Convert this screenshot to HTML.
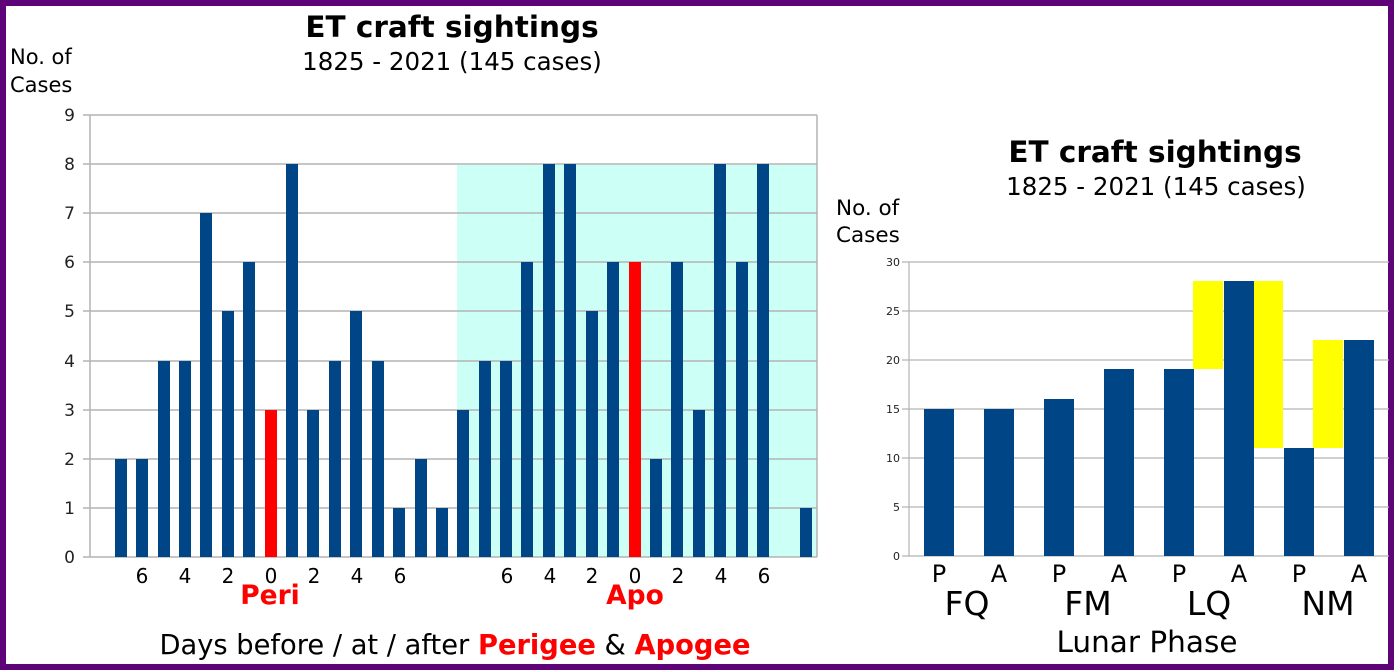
<!DOCTYPE html>
<html><head><meta charset="utf-8"><style>
body{margin:0;background:#fff}
svg{display:block;font-family:"DejaVu Sans","Liberation Sans",sans-serif}
</style></head><body>
<svg width="1394" height="670" xmlns="http://www.w3.org/2000/svg">
<rect x="3" y="3" width="1388" height="664" fill="#fff" stroke="#5e0478" stroke-width="6"/>
<!-- LEFT CHART -->
<text x="452" y="37" font-size="29.5" font-weight="bold" text-anchor="middle">ET craft sightings</text>
<text x="452" y="70" font-size="24.5" text-anchor="middle">1825 - 2021 (145 cases)</text>
<text x="10" y="64" font-size="21">No. of</text>
<text x="10" y="92" font-size="21">Cases</text>
<rect x="457" y="165" width="360" height="392" fill="#ccfff6"/>
<g stroke="#b4b4b4" stroke-width="1.5">
<line x1="83" y1="115" x2="817" y2="115"/>
<line x1="83" y1="164" x2="817" y2="164"/>
<line x1="83" y1="213" x2="817" y2="213"/>
<line x1="83" y1="262" x2="817" y2="262"/>
<line x1="83" y1="311" x2="817" y2="311"/>
<line x1="83" y1="361" x2="817" y2="361"/>
<line x1="83" y1="410" x2="817" y2="410"/>
<line x1="83" y1="459" x2="817" y2="459"/>
<line x1="83" y1="508" x2="817" y2="508"/>
<line x1="83" y1="557" x2="817" y2="557"/>
<line x1="90" y1="115" x2="90" y2="557"/>
<line x1="817" y1="115" x2="817" y2="557"/>
</g>
<g font-size="17" text-anchor="end" fill="#222">
<text x="75" y="121">9</text><text x="75" y="170">8</text><text x="75" y="219">7</text><text x="75" y="268">6</text><text x="75" y="317">5</text><text x="75" y="367">4</text><text x="75" y="416">3</text><text x="75" y="465">2</text><text x="75" y="514">1</text><text x="75" y="563">0</text>
</g>
<g>
<rect x="115" y="459" width="12" height="98" fill="#004586"/>
<rect x="136" y="459" width="12" height="98" fill="#004586"/>
<rect x="158" y="361" width="12" height="196" fill="#004586"/>
<rect x="179" y="361" width="12" height="196" fill="#004586"/>
<rect x="200" y="213" width="12" height="344" fill="#004586"/>
<rect x="222" y="311" width="12" height="246" fill="#004586"/>
<rect x="243" y="262" width="12" height="295" fill="#004586"/>
<rect x="265" y="410" width="12" height="147" fill="#ff0000"/>
<rect x="286" y="164" width="12" height="393" fill="#004586"/>
<rect x="307" y="410" width="12" height="147" fill="#004586"/>
<rect x="329" y="361" width="12" height="196" fill="#004586"/>
<rect x="350" y="311" width="12" height="246" fill="#004586"/>
<rect x="372" y="361" width="12" height="196" fill="#004586"/>
<rect x="393" y="508" width="12" height="49" fill="#004586"/>
<rect x="415" y="459" width="12" height="98" fill="#004586"/>
<rect x="436" y="508" width="12" height="49" fill="#004586"/>
<rect x="457" y="410" width="12" height="147" fill="#004586"/>
<rect x="479" y="361" width="12" height="196" fill="#004586"/>
<rect x="500" y="361" width="12" height="196" fill="#004586"/>
<rect x="521" y="262" width="12" height="295" fill="#004586"/>
<rect x="543" y="164" width="12" height="393" fill="#004586"/>
<rect x="564" y="164" width="12" height="393" fill="#004586"/>
<rect x="586" y="311" width="12" height="246" fill="#004586"/>
<rect x="607" y="262" width="12" height="295" fill="#004586"/>
<rect x="629" y="262" width="12" height="295" fill="#ff0000"/>
<rect x="650" y="459" width="12" height="98" fill="#004586"/>
<rect x="671" y="262" width="12" height="295" fill="#004586"/>
<rect x="693" y="410" width="12" height="147" fill="#004586"/>
<rect x="714" y="164" width="12" height="393" fill="#004586"/>
<rect x="736" y="262" width="12" height="295" fill="#004586"/>
<rect x="757" y="164" width="12" height="393" fill="#004586"/>
<rect x="800" y="508" width="12" height="49" fill="#004586"/>
</g>
<g font-size="20" text-anchor="middle">
<text x="142" y="583">6</text><text x="185" y="583">4</text><text x="228" y="583">2</text><text x="271" y="583">0</text><text x="314" y="583">2</text><text x="357" y="583">4</text><text x="400" y="583">6</text>
<text x="507" y="583">6</text><text x="550" y="583">4</text><text x="592" y="583">2</text><text x="635" y="583">0</text><text x="678" y="583">2</text><text x="721" y="583">4</text><text x="764" y="583">6</text>
</g>
<g font-size="26.5" font-weight="bold" fill="#ff0000" text-anchor="middle">
<text x="270" y="604">Peri</text><text x="635" y="604">Apo</text>
</g>
<text x="455" y="654" font-size="27.3" text-anchor="middle">Days before / at / after <tspan fill="#ff0000" font-weight="bold">Perigee</tspan> &amp; <tspan fill="#ff0000" font-weight="bold">Apogee</tspan></text>

<!-- RIGHT CHART -->
<text x="1155" y="162" font-size="29.5" font-weight="bold" text-anchor="middle">ET craft sightings</text>
<text x="1156" y="195" font-size="24.5" text-anchor="middle">1825 - 2021 (145 cases)</text>
<text x="836" y="215" font-size="21.5">No. of</text>
<text x="836" y="242" font-size="21.5">Cases</text>
<g stroke="#b4b4b4" stroke-width="1.2">
<line x1="902" y1="262" x2="1389" y2="262"/>
<line x1="902" y1="311" x2="1389" y2="311"/>
<line x1="902" y1="360" x2="1389" y2="360"/>
<line x1="902" y1="409" x2="1389" y2="409"/>
<line x1="902" y1="458" x2="1389" y2="458"/>
<line x1="902" y1="507" x2="1389" y2="507"/>
<line x1="902" y1="556" x2="1389" y2="556"/>
<line x1="909" y1="262" x2="909" y2="556"/>
</g>
<g font-size="11" text-anchor="end" fill="#222">
<text x="900" y="266">30</text><text x="900" y="315">25</text><text x="900" y="364">20</text><text x="900" y="413">15</text><text x="900" y="462">10</text><text x="900" y="511">5</text><text x="900" y="560">0</text>
</g>
<g fill="#ffff00">
<rect x="1193" y="281" width="30" height="88"/>
<rect x="1253" y="281" width="30" height="167"/>
<rect x="1313" y="340" width="30" height="108"/>
</g>
<g fill="#004586">
<rect x="924" y="409" width="30" height="147"/>
<rect x="984" y="409" width="30" height="147"/>
<rect x="1044" y="399" width="30" height="157"/>
<rect x="1104" y="369" width="30" height="187"/>
<rect x="1164" y="369" width="30" height="187"/>
<rect x="1224" y="281" width="30" height="275"/>
<rect x="1284" y="448" width="30" height="108"/>
<rect x="1344" y="340" width="30" height="216"/>
</g>
<g font-size="24" text-anchor="middle">
<text x="939" y="582">P</text><text x="999" y="582">A</text><text x="1059" y="582">P</text><text x="1119" y="582">A</text><text x="1179" y="582">P</text><text x="1239" y="582">A</text><text x="1299" y="582">P</text><text x="1359" y="582">A</text>
</g>
<g font-size="33" text-anchor="middle">
<text x="967" y="615">FQ</text><text x="1088" y="615">FM</text><text x="1209" y="615">LQ</text><text x="1328" y="615">NM</text>
</g>
<text x="1147" y="652" font-size="29.5" text-anchor="middle">Lunar Phase</text>
</svg>
</body></html>
